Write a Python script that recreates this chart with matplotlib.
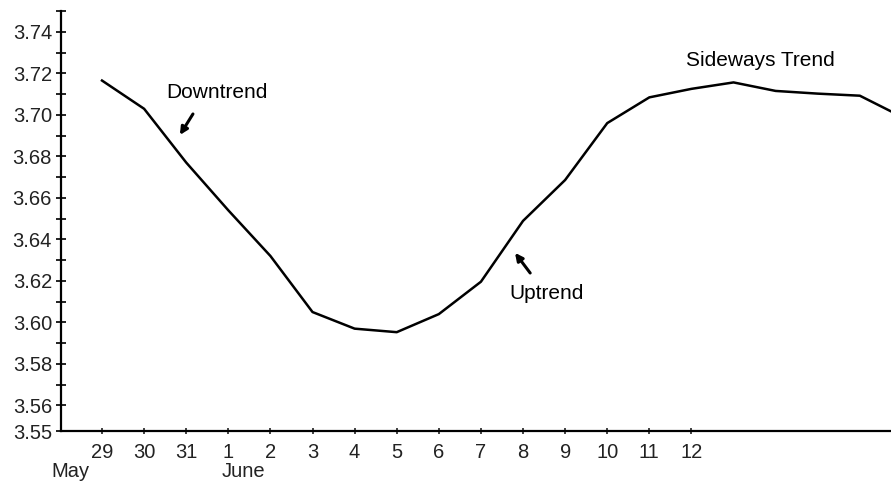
import numpy as np
import matplotlib
matplotlib.use('Agg')
import matplotlib.pyplot as plt

plt.rcParams['font.family'] = ['Liberation Sans', 'DejaVu Sans']

# day labels on the x axis (29 May .. 12 June)
day_labels = ['29', '30', '31', '1', '2', '3', '4', '5', '6', '7', '8', '9', '10', '11', '12']
# price series, one value per day (runs past the last labelled day)
price = [3.7165, 3.7029, 3.677, 3.654, 3.632, 3.605, 3.597, 3.5953, 3.6040, 3.6196,
         3.6489, 3.6686, 3.696, 3.7084, 3.7125, 3.7156, 3.7115, 3.7102, 3.7092, 3.699]
ytick_vals = [3.56, 3.58, 3.60, 3.62, 3.64, 3.66, 3.68, 3.70, 3.72, 3.74]

ybot, ytop = 3.5477, 3.75
xleft, xright = -0.974, 18.74

fig = plt.figure(figsize=(8.91, 4.83), dpi=100)
ax = fig.add_axes([61/891, 1 - 431/483, 1 - 61/891, (431 - 11)/483])

x = np.arange(len(price))
ax.plot(x, price, color='black', lw=1.8)

ax.set_xlim(xleft, xright)
ax.set_ylim(ybot, ytop)

for s in ['top', 'right']:
    ax.spines[s].set_visible(False)
for s in ['left', 'bottom']:
    ax.spines[s].set_linewidth(1.6)

ax.set_xticks(np.arange(len(day_labels)))
ax.set_xticklabels(day_labels)
ax.set_yticks([ybot] + ytick_vals)
ax.set_yticklabels(['3.55'] + ['%.2f' % v for v in ytick_vals])
ax.set_yticks(np.arange(3.57, 3.755, 0.02), minor=True)

ax.tick_params(axis='y', which='both', direction='inout', length=7, width=1.4,
               labelsize=14.5, pad=3, colors='#222222')
ax.tick_params(axis='x', direction='inout', length=5, width=1.2,
               labelsize=14.5, pad=6, colors='#222222')

# month labels under the axis
ax.text(-0.76, 3.528, 'May', ha='center', va='center', fontsize=14.5,
        color='#222222', clip_on=False)
ax.text(3.35, 3.528, 'June', ha='center', va='center', fontsize=14.5,
        color='#222222', clip_on=False)

arrow = dict(arrowstyle='-|>', color='black', lw=2.2, mutation_scale=11,
             shrinkA=0, shrinkB=0)
ax.text(2.73, 3.7106, 'Downtrend', ha='center', va='center', fontsize=15)
ax.annotate('', xy=(1.85, 3.6903), xytext=(2.16, 3.7004), arrowprops=arrow)

ax.text(10.57, 3.6141, 'Uptrend', ha='center', va='center', fontsize=15)
ax.annotate('', xy=(9.81, 3.6335), xytext=(10.17, 3.6238), arrowprops=arrow)

ax.text(15.63, 3.726, 'Sideways Trend', ha='center', va='center', fontsize=15)

fig.savefig('out.png', dpi=100)
